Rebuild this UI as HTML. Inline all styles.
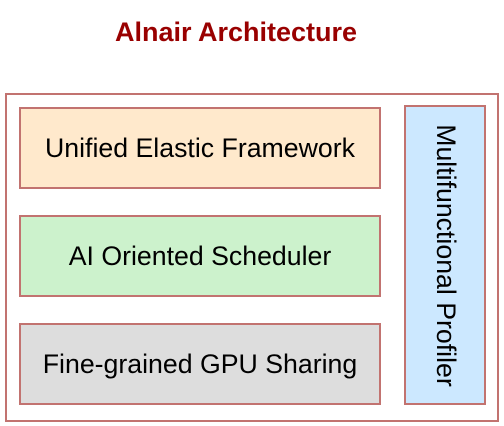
<!DOCTYPE html>
<html><head><meta charset="utf-8"><style>
html,body{margin:0;padding:0;background:#fff;}
body{width:504px;height:426px;position:relative;overflow:hidden;font-family:"Liberation Sans",Arial,sans-serif;}
.b{position:absolute;box-sizing:border-box;border:2px solid #c27370;display:flex;align-items:center;justify-content:center;font-size:26.7px;color:#000;}
.t{position:absolute;left:0;width:472px;top:17px;text-align:center;font-weight:bold;font-size:27px;color:#990000;}
</style></head><body>
<div class="t">Alnair Architecture</div>
<div class="b" style="left:5px;top:93px;width:494px;height:329px;"></div>
<div class="b" style="left:19px;top:107px;width:362px;height:82px;background:#ffe9cc;">Unified Elastic Framework</div>
<div class="b" style="left:19px;top:215px;width:362px;height:82px;background:#ccf2cc;">AI Oriented Scheduler</div>
<div class="b" style="left:19px;top:323px;width:362px;height:82px;background:#dddddd;">Fine-grained GPU Sharing</div>
<div class="b" style="left:404px;top:105px;width:82px;height:300px;background:#cce8ff;">
<div style="transform:rotate(90deg);white-space:nowrap;">Multifunctional Profiler</div></div>
</body></html>
